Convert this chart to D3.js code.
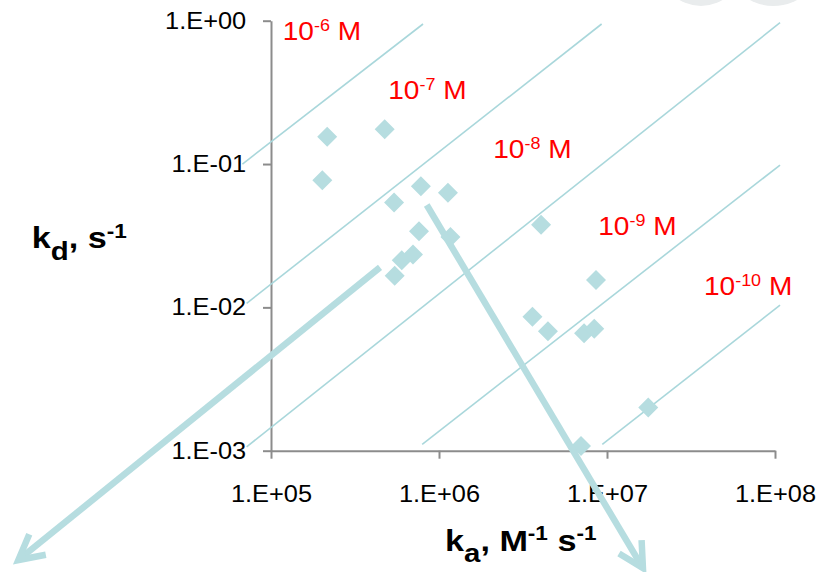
<!DOCTYPE html>
<html>
<head>
<meta charset="utf-8">
<script src="https://cdn.jsdelivr.net/npm/d3@7"></script>
<style>
  body { margin: 0; background: #fff; }
  svg { display: block; font-family: Arial, "Liberation Sans", sans-serif; }
</style>
</head>
<body>
<svg id="chart" width="828" height="572"></svg>
<script>
// axis ticks
var kaTicks = [1e5, 1e6, 1e7, 1e8];
var kdTicks = [1e-3, 1e-2, 1e-1, 1];

// measured rate constants
var ka = [2.16e5, 4.75e5, 2.02e5, 5.4e5, 7.8e5, 1.13e6, 7.6e5, 1.17e6, 7.0e5, 6.0e5,
          5.45e5, 4.05e6, 8.6e6, 3.6e6, 4.45e6, 7.3e6, 8.4e6, 1.76e7, 7.0e6];
var kd = [0.155, 0.175, 0.077, 0.054, 0.070, 0.063, 0.034, 0.031, 0.0234, 0.0213,
          0.0166, 0.0377, 0.0155, 0.0086, 0.0068, 0.0066, 0.0071, 0.0020, 0.00108];

// iso-affinity guides (KD = 10^exp M), ends given as [log ka, log kd]
var kdExp = [-6, -7, -8, -9, -10];
var isoFrom = [[4.83, -1.0], [4.855, -1.972], [4.855, -2.973], [5.90, -2.956], [6.972, -2.956]];
var isoTo = [[5.905, -0.023], [6.968, -0.023], [8.03, -0.014], [8.03, -1.007], [8.03, -1.984]];
var labelAt = [[5.07, -0.135], [5.698, -0.549], [6.323, -0.96], [6.948, -1.495], [7.577, -1.914]];

// trend arrows, [log ka, log kd] start -> tip
var arrowFrom = [[5.649, -1.721], [5.927, -1.286]];
var arrowTo = [[3.496, -3.763], [7.214, -3.819]];

var teal = '#b6dde0';
var svg = d3.select('#chart');
svg.append('rect').attr('width', 828).attr('height', 572).attr('fill', '#fff');

// faint leftovers of the slide background, top right
svg.append('circle').attr('cx', 701).attr('cy', -35.5).attr('r', 41.5).attr('fill', '#e9eced');
svg.append('circle').attr('cx', 773.5).attr('cy', -43).attr('r', 49).attr('fill', '#e9eced');

var x = d3.scaleLog().domain([1e5, 1e8]).range([271, 775]);
var y = d3.scaleLog().domain([1e-3, 1]).range([450.7, 20.7]);

function pt(d) {
  return [x(Math.pow(10, d[0])), y(Math.pow(10, d[1]))];
}

function fmt(d) {
  var e = Math.round(Math.log10(d));
  var a = Math.abs(e);
  return '1.E' + (e < 0 ? '-' : '+') + (a < 10 ? '0' : '') + a;
}

// axes
var xAxis = svg.append('g')
  .attr('transform', 'translate(0,' + y(1e-3) + ')')
  .call(d3.axisBottom(x).tickValues(kaTicks).tickFormat(fmt)
    .tickSizeInner(8).tickSizeOuter(0).tickPadding(27));
var yAxis = svg.append('g')
  .attr('transform', 'translate(' + x(1e5) + ',0)')
  .call(d3.axisLeft(y).tickValues(kdTicks).tickFormat(fmt)
    .tickSizeInner(8).tickSizeOuter(0).tickPadding(15));

[xAxis, yAxis].forEach(function(ax) {
  ax.select('.domain').attr('stroke', '#8c8c8c').attr('stroke-width', 2);
  ax.selectAll('.tick line').attr('stroke', '#8c8c8c').attr('stroke-width', 2);
  ax.selectAll('.tick text')
    .attr('fill', '#000')
    .style('font-size', '23.5px')
    .style('font-family', 'Arial, "Liberation Sans", sans-serif')
    .attr('transform', 'scale(1.08,1)');
});

// iso lines
svg.append('g').selectAll('line')
  .data(kdExp)
  .enter().append('line')
  .attr('x1', function(d, i) { return pt(isoFrom[i])[0]; })
  .attr('y1', function(d, i) { return pt(isoFrom[i])[1]; })
  .attr('x2', function(d, i) { return pt(isoTo[i])[0]; })
  .attr('y2', function(d, i) { return pt(isoTo[i])[1]; })
  .attr('stroke', '#a9d7db')
  .attr('stroke-width', 1.6);

// rich text: parts of [string, 'sup' | 'sub' | '']
function richText(px, py, parts, size, opts) {
  var g = svg.append('g')
    .attr('transform', 'translate(' + px + ',' + py + ') scale(' + (opts.stretch || 1.08) + ',1)');
  var t = g.append('text')
    .attr('fill', opts.fill)
    .attr('font-weight', opts.bold ? 'bold' : 'normal')
    .style('font-size', size + 'px');
  var shift = 0;
  parts.forEach(function(p) {
    var want = p[1] === 'sup' ? -size * 0.36 : p[1] === 'sub' ? size * opts.subShift : 0;
    var sp = t.append('tspan')
      .attr('dy', want - shift)
      .text(p[0]);
    if (p[1] === 'sup') sp.style('font-size', (size * opts.supSize) + 'px');
    if (p[1] === 'sub') sp.style('font-size', (size * opts.subSize) + 'px');
    shift = want;
  });
  return g;
}

// KD labels
kdExp.forEach(function(e, i) {
  var p = pt(labelAt[i]);
  richText(p[0], p[1], [['10', ''], [String(e), 'sup'], [' M', '']], 26,
    {fill: '#ff0000', supSize: 0.64});
});

// points
svg.append('g').selectAll('path')
  .data(ka)
  .enter().append('path')
  .attr('d', d3.symbol().type(d3.symbolSquare).size(200))
  .attr('transform', function(d, i) {
    return 'translate(' + x(d) + ',' + y(kd[i]) + ') rotate(45)';
  })
  .attr('fill', teal);

// arrows
arrowFrom.forEach(function(a, i) {
  var s = pt(a), t = pt(arrowTo[i]);
  var ang = Math.atan2(s[1] - t[1], s[0] - t[0]);
  var len = 28, spread = 28 * Math.PI / 180;
  var l = [t[0] + len * Math.cos(ang + spread), t[1] + len * Math.sin(ang + spread)];
  var r = [t[0] + len * Math.cos(ang - spread), t[1] + len * Math.sin(ang - spread)];
  svg.append('line')
    .attr('x1', s[0]).attr('y1', s[1]).attr('x2', t[0]).attr('y2', t[1])
    .attr('stroke', teal).attr('stroke-width', 6.5);
  svg.append('path')
    .attr('d', d3.line()([l, t, r]))
    .attr('fill', 'none')
    .attr('stroke', teal)
    .attr('stroke-width', 6.5)
    .attr('stroke-linejoin', 'miter');
});

// axis titles
var titleOpts = {fill: '#000', bold: true, supSize: 0.66, subSize: 0.86, subShift: 0.38, stretch: 1.14};
richText(445, 550.7, [['k', ''], ['a', 'sub'], [', M', ''], ['-1', 'sup'], [' s', ''], ['-1', 'sup']],
  30, titleOpts);
richText(31.7, 248.3, [['k', ''], ['d', 'sub'], [', s', ''], ['-1', 'sup']],
  30, titleOpts);
</script>
</body>
</html>
